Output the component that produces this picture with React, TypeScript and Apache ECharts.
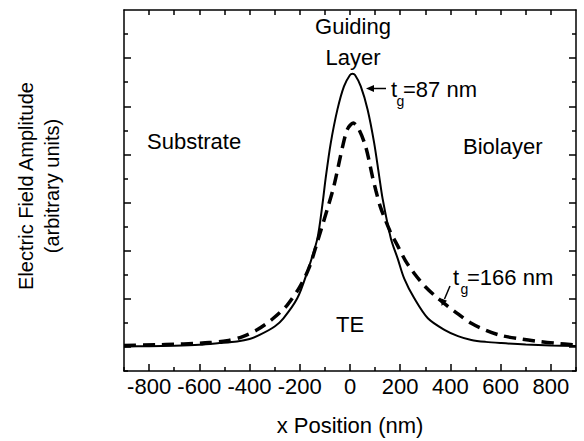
import React, { useEffect, useRef } from "react";
import * as echarts from "echarts";

// ---- Data ----
const xSolid = [-900, -800, -700, -600, -520, -450, -400, -360, -300, -265, -210, -170, -130, -110, -97, -77, -50, -24, 0, 10, 20, 43, 70, 96, 116, 130, 163, 190, 216, 256, 310, 376, 430, 483, 540, 603, 700, 800, 900];
const ySolid = [0.02, 0.03, 0.05, 0.09, 0.16, 0.23, 0.33, 0.5, 0.85, 1.19, 2.02, 3.12, 4.5, 5.9, 7.0, 8.45, 9.87, 10.83, 11.3, 11.35, 11.3, 10.83, 9.87, 8.49, 7.11, 6.15, 4.5, 3.67, 2.84, 2.02, 1.19, 0.71, 0.45, 0.29, 0.21, 0.16, 0.1, 0.06, 0.04];

const xDash = [-900, -770, -700, -624, -560, -490, -430, -370, -310, -250, -200, -164, -130, -90, -70, -57, -30, -10, 13, 35, 63, 90, 103, 120, 136, 160, 190, 220, 256, 300, 350, 420, 483, 540, 600, 680, 750, 820, 900];
const yDash = [0.06, 0.09, 0.11, 0.14, 0.18, 0.26, 0.42, 0.71, 1.15, 1.74, 2.5, 3.26, 4.36, 5.74, 6.45, 7.0, 8.3, 9.05, 9.3, 9.05, 8.3, 7.05, 6.5, 5.85, 5.4, 4.8, 4.2, 3.6, 3.05, 2.5, 2.02, 1.45, 0.98, 0.7, 0.48, 0.33, 0.23, 0.15, 0.08];

const xMajorTicks = [-800, -600, -400, -200, 0, 200, 400, 600, 800];
const xMinorTicks = [-900, -700, -500, -300, -100, 100, 300, 500, 700, 900];
const xTopTicks = [-800, -700, -600, -500, -400, -300, -200, -100, 0, 100, 200, 300, 400, 500, 600, 700, 800];
const yMajorTicks = [0, 2, 4, 6, 8, 10, 12];
const yMinorTicks = [-1, 1, 3, 5, 7, 9, 11, 13];

const FONT = "'Liberation Sans', Arial, Helvetica, sans-serif";
const BLACK = "#000";

function pairs(xs: number[], ys: number[]) {
  return xs.map((x, i) => [x, ys[i]]);
}

export default function App() {
  const ref = useRef<HTMLDivElement>(null);
  useEffect(() => {
    document.body.style.margin = "0";
    if (!ref.current) return;
    const chart = echarts.init(ref.current, null, { renderer: "svg" });

    const tickStyle = { color: BLACK, width: 1.5 };
    const frameLine = { show: true, onZero: false, lineStyle: { color: BLACK, width: 1.5 } };
    const hiddenLine = { show: false, onZero: false };
    const baseX = { type: "value", min: -900, max: 900, gridIndex: 0, splitLine: { show: false } };
    const baseY = { type: "value", min: -1, max: 14, gridIndex: 0, splitLine: { show: false } };

    const option: any = {
      animation: false,
      backgroundColor: "#fff",
      grid: { left: 124, right: 8, top: 10, bottom: 68 },
      xAxis: [
        {
          ...baseX,
          position: "bottom",
          axisLine: frameLine,
          axisTick: { show: true, inside: true, length: 7, customValues: xMajorTicks, lineStyle: tickStyle },
          axisLabel: { show: true, customValues: xMajorTicks, color: BLACK, fontSize: 22, fontFamily: FONT, margin: 4 },
          name: "x Position (nm)",
          nameLocation: "middle",
          nameGap: 43,
          nameTextStyle: { color: BLACK, fontSize: 22, fontFamily: FONT },
        },
        {
          ...baseX,
          position: "bottom",
          axisLine: hiddenLine,
          axisTick: { show: true, inside: true, length: 4, customValues: xMinorTicks, lineStyle: tickStyle },
          axisLabel: { show: false },
        },
        {
          ...baseX,
          position: "top",
          axisLine: frameLine,
          axisTick: { show: true, inside: true, length: 5, customValues: xTopTicks, lineStyle: tickStyle },
          axisLabel: { show: false },
        },
      ],
      yAxis: [
        {
          ...baseY,
          position: "left",
          axisLine: frameLine,
          axisTick: { show: true, inside: true, length: 7, customValues: yMajorTicks, lineStyle: tickStyle },
          axisLabel: { show: false },
        },
        {
          ...baseY,
          position: "left",
          axisLine: hiddenLine,
          axisTick: { show: true, inside: true, length: 4, customValues: yMinorTicks, lineStyle: tickStyle },
          axisLabel: { show: false },
        },
        {
          ...baseY,
          position: "right",
          axisLine: frameLine,
          axisTick: { show: true, inside: true, length: 7, customValues: yMajorTicks, lineStyle: tickStyle },
          axisLabel: { show: false },
        },
        {
          ...baseY,
          position: "right",
          axisLine: hiddenLine,
          axisTick: { show: true, inside: true, length: 4, customValues: yMinorTicks, lineStyle: tickStyle },
          axisLabel: { show: false },
        },
      ],
      series: [
        {
          type: "line",
          name: "tg=87 nm",
          xAxisIndex: 0,
          yAxisIndex: 0,
          data: pairs(xSolid, ySolid),
          showSymbol: false,
          symbol: "none",
          smooth: 0.3,
          lineStyle: { color: BLACK, width: 2 },
          z: 3,
        },
        {
          type: "line",
          name: "tg=166 nm",
          xAxisIndex: 0,
          yAxisIndex: 0,
          data: pairs(xDash, yDash),
          showSymbol: false,
          symbol: "none",
          smooth: 0.3,
          lineStyle: { color: BLACK, width: 3.5, type: [12, 7] },
          z: 2,
        },
      ],
      graphic: [
        {
          type: "text",
          x: 39,
          y: 186,
          rotation: Math.PI / 2,
          style: {
            text: "Electric Field Amplitude\n(arbitrary units)",
            fill: BLACK,
            font: `20px ${FONT}`,
            lineHeight: 26,
            align: "center",
            verticalAlign: "middle",
          },
        },
        { type: "text", x: 353, y: 26, style: { text: "Guiding", fill: BLACK, font: `22px ${FONT}`, align: "center", verticalAlign: "middle" } },
        { type: "text", x: 353, y: 57, style: { text: "Layer", fill: BLACK, font: `22px ${FONT}`, align: "center", verticalAlign: "middle" } },
        { type: "text", x: 147, y: 141, style: { text: "Substrate", fill: BLACK, font: `22px ${FONT}`, align: "left", verticalAlign: "middle" } },
        { type: "text", x: 463, y: 146, style: { text: "Biolayer", fill: BLACK, font: `22px ${FONT}`, align: "left", verticalAlign: "middle" } },
        { type: "text", x: 350, y: 324, style: { text: "TE", fill: BLACK, font: `22px ${FONT}`, align: "center", verticalAlign: "middle" } },
        // t_g = 87 nm annotation
        { type: "line", shape: { x1: 372, y1: 88.5, x2: 386, y2: 88.5 }, style: { stroke: BLACK, lineWidth: 1.5 } },
        { type: "polygon", shape: { points: [[366, 88.5], [374, 85], [374, 92]] }, style: { fill: BLACK } },
        { type: "text", x: 391, y: 89, style: { text: "t", fill: BLACK, font: `22px ${FONT}`, align: "left", verticalAlign: "middle" } },
        { type: "text", x: 396.5, y: 101, style: { text: "g", fill: BLACK, font: `14px ${FONT}`, align: "left", verticalAlign: "middle" } },
        { type: "text", x: 403, y: 89, style: { text: "=87 nm", fill: BLACK, font: `22px ${FONT}`, align: "left", verticalAlign: "middle" } },
        // t_g = 166 nm annotation
        { type: "line", shape: { x1: 450, y1: 286, x2: 444.5, y2: 299 }, style: { stroke: BLACK, lineWidth: 1.5 } },
        { type: "polygon", shape: { points: [[441.5, 306], [447, 300.7], [441.4, 298.4]] }, style: { fill: BLACK } },
        { type: "text", x: 453, y: 277, style: { text: "t", fill: BLACK, font: `22px ${FONT}`, align: "left", verticalAlign: "middle" } },
        { type: "text", x: 460.5, y: 289, style: { text: "g", fill: BLACK, font: `14px ${FONT}`, align: "left", verticalAlign: "middle" } },
        { type: "text", x: 467, y: 277, style: { text: "=166 nm", fill: BLACK, font: `22px ${FONT}`, align: "left", verticalAlign: "middle" } },
      ],
    };

    chart.setOption(option);
    return () => chart.dispose();
  }, []);

  return <div ref={ref} style={{ width: 584, height: 441 }} />;
}
